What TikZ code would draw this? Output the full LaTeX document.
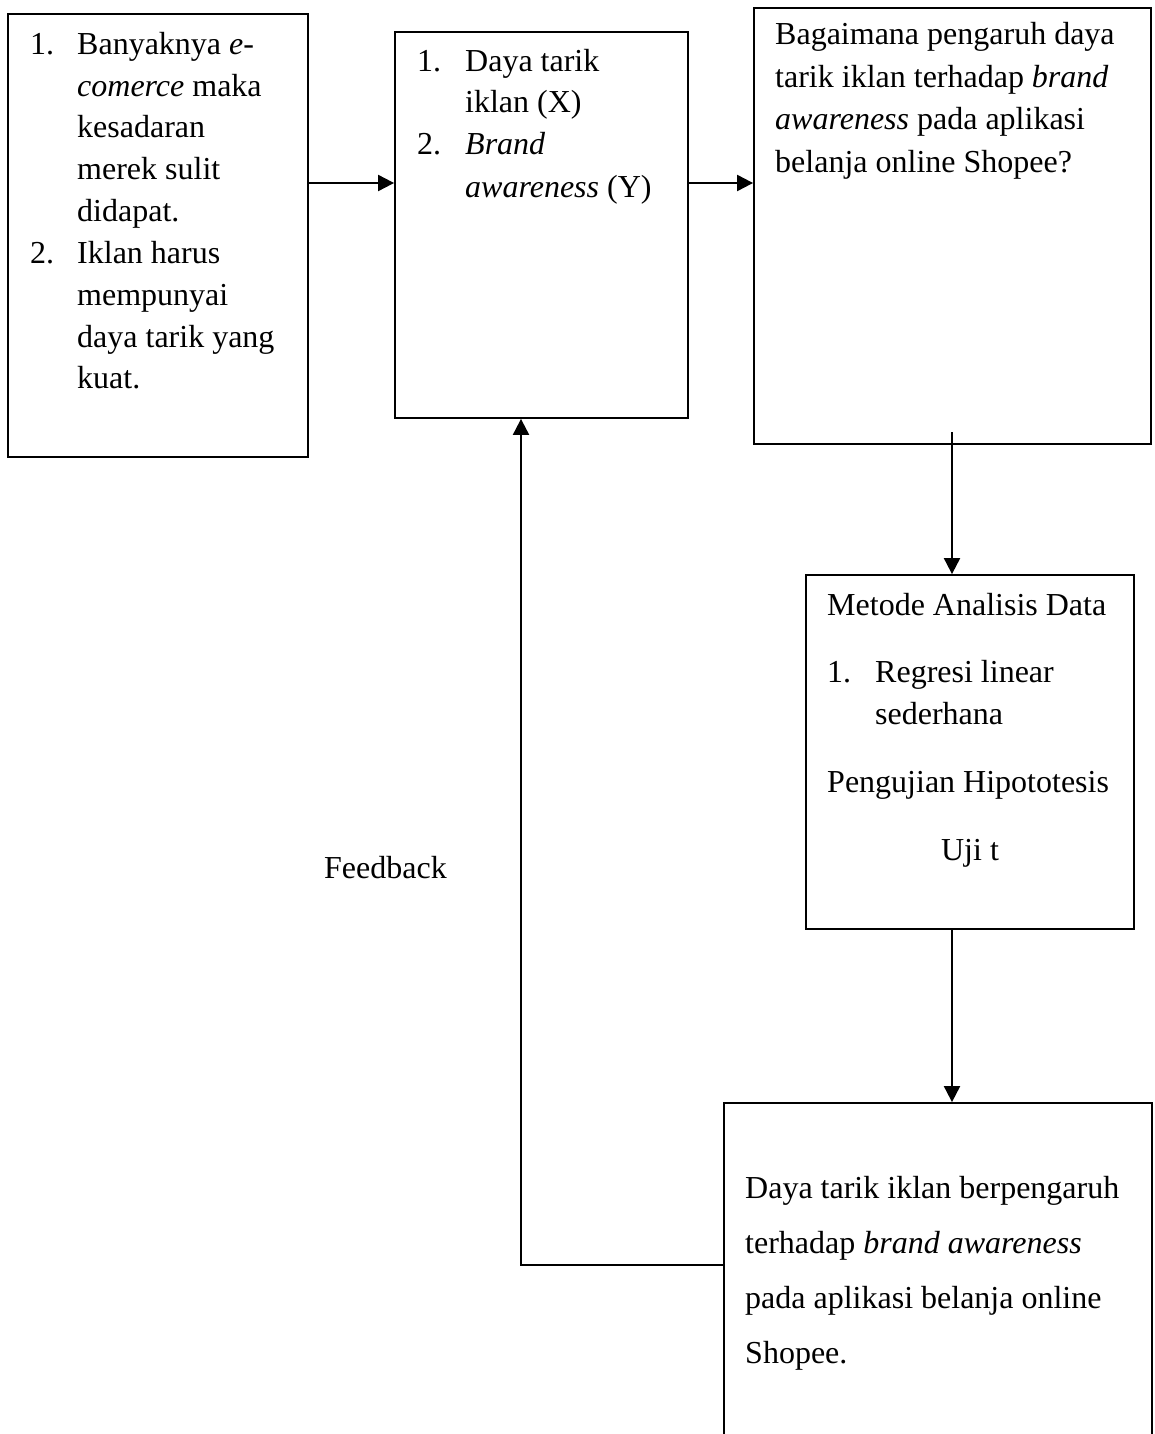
\documentclass[tikz,border=0pt]{standalone}
\usepackage{fontspec}
\setmainfont{Liberation Serif}
\usetikzlibrary{arrows.meta}
\begin{document}
\begin{tikzpicture}[x=1pt,y=-1pt,
  box/.style={draw,line width=1.8pt,rectangle,inner sep=0pt},
  txt/.style={anchor=base west,inner sep=0pt,font=\fontsize{32}{40}\selectfont},
  arr/.style={line width=2pt,-{Triangle[length=16pt,width=16pt]}},
  plain/.style={line width=2pt}]
\clip (0,0) rectangle (1154,1434);
\fill[white] (0,0) rectangle (1154,1434);
% boxes
\node[box,minimum width=300pt,minimum height=443pt] (A) at (158,235.5) {};
\node[box,minimum width=293pt,minimum height=386pt] (B) at (541.5,225) {};
\node[box,minimum width=397pt,minimum height=436pt] (C) at (952.5,226) {};
\node[box,minimum width=328pt,minimum height=354pt] (D) at (970,752) {};
\node[box,minimum width=428pt,minimum height=397pt] (E) at (938,1301.5) {};
% helper coordinates
\coordinate (row) at (0,183);
\coordinate (xc) at (952,0);
\coordinate (cstart) at (952,432);
\coordinate (fbx) at (521,0);
\coordinate (fby) at (0,1265);
% box A text
\node[txt] (a1n) at (30,55) {1.};
\node[txt] (a1) at (77,55) {Banyaknya \textit{e-}};
\node[txt] (a2) at (77,97) {\textit{comerce} maka};
\node[txt] (a3) at (77,138) {kesadaran};
\node[txt] (a4) at (77,180) {merek sulit};
\node[txt] (a5) at (77,222) {didapat.};
\node[txt] (a6n) at (30,263) {2.};
\node[txt] (a6) at (77,263) {Iklan harus};
\node[txt] (a7) at (77,305) {mempunyai};
\node[txt] (a8) at (77,347) {daya tarik yang};
\node[txt] (a9) at (77,388) {kuat.};
% box B text
\node[txt] (b1n) at (417,72) {1.};
\node[txt] (b1) at (465,72) {Daya tarik};
\node[txt] (b2) at (465,113) {iklan (X)};
\node[txt] (b3n) at (417,155) {2.};
\node[txt] (b3) at (465,155) {\textit{Brand}};
\node[txt] (b4) at (465,197) {\textit{awareness} (Y)};
% box C text
\node[txt] (c1) at (775,45) {Bagaimana pengaruh daya};
\node[txt] (c2) at (775,88) {tarik iklan terhadap \textit{brand}};
\node[txt] (c3) at (775,130) {\textit{awareness} pada aplikasi};
\node[txt] (c4) at (775,173) {belanja online Shopee?};
% box D text
\node[txt] (d1) at (827,615) {Metode Analisis Data};
\node[txt] (d2n) at (827,682) {1.};
\node[txt] (d2) at (875,682) {Regresi linear};
\node[txt] (d3) at (875,724) {sederhana};
\node[txt] (d4) at (827,792) {Pengujian Hipototesis};
\node[txt,anchor=base] (d5) at (970,860) {Uji t};
% box E text
\node[txt] (e1) at (745,1198) {Daya tarik iklan berpengaruh};
\node[txt] (e2) at (745,1253) {terhadap \textit{brand awareness}};
\node[txt] (e3) at (745,1308) {pada aplikasi belanja online};
\node[txt] (e4) at (745,1363) {Shopee.};
% feedback label
\node[txt] (fb) at (324,878) {Feedback};
% connectors
\draw[arr] (A.east |- row) -- (B.west |- row);
\draw[arr] (B.east |- row) -- (C.west |- row);
\draw[arr] (cstart) -- (D.north -| xc);
\draw[arr] (D.south -| xc) -- (E.north -| xc);
\draw[arr] (E.west |- fby) -- (fbx |- fby) -- (B.south -| fbx);
\end{tikzpicture}
\end{document}
